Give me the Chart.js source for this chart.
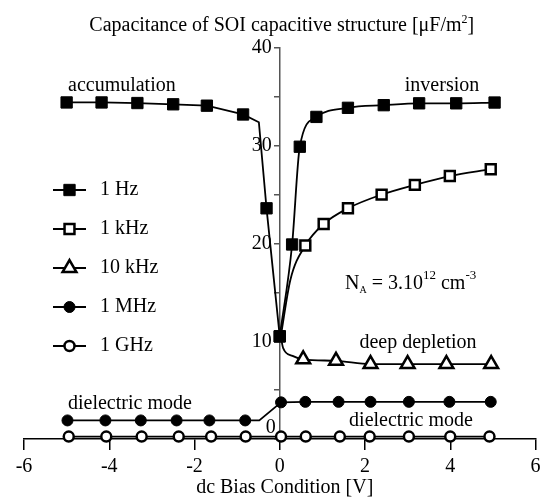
<!DOCTYPE html>
<html>
<head>
<meta charset="utf-8">
<title>SOI capacitance vs bias</title>
<script src="https://cdn.jsdelivr.net/npm/chart.js@4.4.1/dist/chart.umd.min.js"></script>
<style>
  html, body { margin: 0; padding: 0; background: #fff; }
  canvas { display: block; }
</style>
</head>
<body>
<canvas id="cv" width="546" height="500"></canvas>
<script>
// dc bias [V] and capacitance [uF/m^2] for each measuring frequency

// 1 Hz, accumulation side down to the minimum (knee at index 6 has no marker)
const hzLeftX = [-5.0, -4.18, -3.34, -2.5, -1.71, -0.86, -0.49, -0.31, 0];
const hzLeftY = [34.43, 34.43, 34.37, 34.24, 34.1, 33.2, 32.4, 23.6, 10.5];
const hzLeftBare = [6];

// 1 Hz, inversion side
const hzRightX = [0, 0.29, 0.47, 0.86, 1.6, 2.44, 3.27, 4.14, 5.04];
const hzRightY = [10.5, 19.9, 29.9, 32.95, 33.88, 34.15, 34.34, 34.34, 34.42];

// 1 kHz
const khzX = [0.02, 0.25, 0.6, 1.03, 1.6, 2.39, 3.17, 3.99, 4.95];
const khzY = [10.4, 16.3, 19.8, 22.0, 23.6, 25.0, 26.0, 26.9, 27.6];
const khzBare = [0, 1];

// 10 kHz (deep depletion)
const tenKhzX = [0.03, 0.08, 0.3, 0.55, 1.32, 2.13, 3.0, 3.91, 4.96];
const tenKhzY = [10.3, 9.3, 8.5, 8.15, 8.0, 7.67, 7.67, 7.67, 7.67];
const tenKhzBare = [0, 1, 2];

// 1 MHz (knee at index 6 has no marker)
const mhzX = [-4.98, -4.09, -3.26, -2.42, -1.65, -0.81, -0.48, 0.03, 0.6, 1.38, 2.13, 3.03, 3.98, 4.95];
const mhzY = [1.9, 1.9, 1.9, 1.9, 1.9, 1.9, 1.9, 3.75, 3.8, 3.8, 3.8, 3.8, 3.8, 3.8];
const mhzBare = [6];

// 1 GHz
const ghzX = [-4.95, -4.07, -3.24, -2.37, -1.61, -0.8, 0.03, 0.61, 1.41, 2.11, 3.03, 4.0, 4.92];
const ghzY = [0.25, 0.25, 0.25, 0.25, 0.25, 0.25, 0.25, 0.25, 0.25, 0.25, 0.25, 0.25, 0.25];

const xTicks = [-6, -4, -2, 0, 2, 4, 6];
const yLabels = [10, 20, 30, 40];
const legendLabels = ['1 Hz', '1 kHz', '10 kHz', '1 MHz', '1 GHz'];

const SERIF = '"Liberation Serif", "Times New Roman", serif';

const pts = (xs, ys) => xs.map((x, i) => ({ x: x, y: ys[i] }));
const radii = (xs, r, bare) => xs.map((x, i) => (bare && bare.includes(i)) ? 0 : r);

// marker looks, shared by the lines and the legend
const styles = {
  fullSquare: { pointStyle: 'rect', radius: 8, borderWidth: 1, fill: '#000' },
  openSquare: { pointStyle: 'rect', radius: 7, borderWidth: 2.5, fill: '#fff' },
  openTriangle: { pointStyle: 'triangle', radius: 8, borderWidth: 2.5, fill: '#fff' },
  fullCircle: { pointStyle: 'circle', radius: 5.5, borderWidth: 1, fill: '#000' },
  openCircle: { pointStyle: 'circle', radius: 5, borderWidth: 2.5, fill: '#fff' }
};
const legendStyles = [styles.fullSquare, styles.openSquare, styles.openTriangle, styles.fullCircle, styles.openCircle];

function series(label, xs, ys, st, bare, curved) {
  return {
    label: label,
    data: pts(xs, ys),
    borderColor: '#000',
    borderWidth: 1.8,
    backgroundColor: st.fill,
    pointBackgroundColor: st.fill,
    pointBorderColor: '#000',
    pointBorderWidth: st.borderWidth,
    pointStyle: st.pointStyle,
    pointRadius: radii(xs, st.radius, bare),
    pointHoverRadius: 0,
    tension: 0,
    cubicInterpolationMode: curved ? 'monotone' : 'default',
    fill: false,
    clip: false
  };
}

function drawMarker(ctx, st, x, y) {
  ctx.save();
  ctx.fillStyle = st.fill;
  ctx.strokeStyle = '#000';
  ctx.lineWidth = st.borderWidth;
  Chart.helpers.drawPoint(ctx, { pointStyle: st.pointStyle, radius: st.radius, borderWidth: st.borderWidth, rotation: 0 }, x, y);
  ctx.restore();
}

// title, axis texts, notes, N_A label and legend
const extras = {
  id: 'extras',
  afterDraw(chart) {
    const ctx = chart.ctx;
    const area = chart.chartArea;
    const xs = chart.scales.x, ys = chart.scales.y;
    const axisX = xs.getPixelForValue(0);
    const midX = (area.left + area.right) / 2;
    ctx.save();
    ctx.fillStyle = '#000';
    ctx.textBaseline = 'middle';

    // title with superscript 2
    const head = 'Capacitance of SOI capacitive structure [\u03bcF/m';
    ctx.font = '20px ' + SERIF;
    const w1 = ctx.measureText(head).width;
    ctx.font = '12px ' + SERIF;
    const w2 = ctx.measureText('2').width;
    ctx.font = '20px ' + SERIF;
    const w3 = ctx.measureText(']').width;
    const tx = midX + 2 - (w1 + w2 + w3) / 2;
    ctx.textAlign = 'left';
    ctx.fillText(head, tx, 26);
    ctx.font = '12px ' + SERIF;
    ctx.fillText('2', tx + w1, 20);
    ctx.font = '20px ' + SERIF;
    ctx.fillText(']', tx + w1 + w2, 26);

    // bias axis title
    ctx.textAlign = 'center';
    ctx.fillText('dc Bias Condition [V]', midX + 5, 488);

    // capacitance tick labels on the left of the centre axis; zero sits above the bias axis
    ctx.textAlign = 'right';
    yLabels.forEach(v => ctx.fillText(String(v), axisX - 8, ys.getPixelForValue(v)));
    ctx.fillText('0', axisX - 4, ys.getPixelForValue(0) - 11);

    // region notes
    ctx.textAlign = 'left';
    ctx.fillText('accumulation', 68, 86);
    ctx.fillText('dielectric mode', 68, 404);
    ctx.textAlign = 'center';
    ctx.fillText('inversion', 442, 86);
    ctx.fillText('deep depletion', 418, 343);
    ctx.fillText('dielectric mode', 411, 421);

    // doping: N_A = 3.10^12 cm^-3
    ctx.textAlign = 'left';
    ctx.textBaseline = 'alphabetic';
    const parts = [
      ['N', 20, 0], ['A', 10, 4], [' = 3.10', 20, 0], ['12', 13, -10], [' cm', 20, 0], ['-3', 13, -10]
    ];
    let nx = 345;
    for (const p of parts) {
      ctx.font = p[1] + 'px ' + SERIF;
      ctx.fillText(p[0], nx, 289 + p[2]);
      nx += ctx.measureText(p[0]).width;
    }

    // legend: short line through each marker
    legendLabels.forEach((lab, i) => {
      const ly = 190 + i * 39;
      ctx.strokeStyle = '#000';
      ctx.lineWidth = 1.8;
      ctx.beginPath();
      ctx.moveTo(53, ly);
      ctx.lineTo(86, ly);
      ctx.stroke();
      drawMarker(ctx, legendStyles[i], 69.5, ly);
      ctx.fillStyle = '#000';
      ctx.font = '20px ' + SERIF;
      ctx.textAlign = 'left';
      ctx.textBaseline = 'middle';
      ctx.fillText(lab, 100, ly);
    });
    ctx.restore();
  }
};

new Chart(document.getElementById('cv'), {
  type: 'line',
  data: {
    datasets: [
      series('1 Hz', hzLeftX, hzLeftY, styles.fullSquare, hzLeftBare, false),
      series('1 Hz', hzRightX, hzRightY, styles.fullSquare, null, true),
      series('1 kHz', khzX, khzY, styles.openSquare, khzBare, true),
      series('10 kHz', tenKhzX, tenKhzY, styles.openTriangle, tenKhzBare, true),
      series('1 MHz', mhzX, mhzY, styles.fullCircle, mhzBare, false),
      series('1 GHz', ghzX, ghzY, styles.openCircle, null, false)
    ]
  },
  options: {
    responsive: false,
    animation: false,
    events: [],
    layout: { padding: { left: 24, right: 7, top: 48, bottom: 16 } },
    plugins: {
      legend: { display: false },
      title: { display: false },
      tooltip: { enabled: false }
    },
    scales: {
      x: {
        type: 'linear',
        position: 'bottom',
        min: -6,
        max: 6,
        afterBuildTicks: (axis) => { axis.ticks = xTicks.map(v => ({ value: v })); },
        border: { color: '#000', width: 1.5 },
        grid: { drawOnChartArea: false, drawTicks: true, tickLength: 11, color: '#000', lineWidth: 1.5 },
        ticks: { color: '#000', padding: 2, font: { family: SERIF, size: 20, lineHeight: 1.5 } }
      },
      y: {
        type: 'linear',
        position: { x: 0 },
        min: 0,
        max: 40,
        ticks: { stepSize: 5, callback: () => '' },
        border: { color: '#555', width: 1.5 },
        grid: { drawOnChartArea: false, drawTicks: true, tickLength: 5, color: '#555', lineWidth: 1.5 }
      }
    }
  },
  plugins: [extras]
});
</script>
</body>
</html>
